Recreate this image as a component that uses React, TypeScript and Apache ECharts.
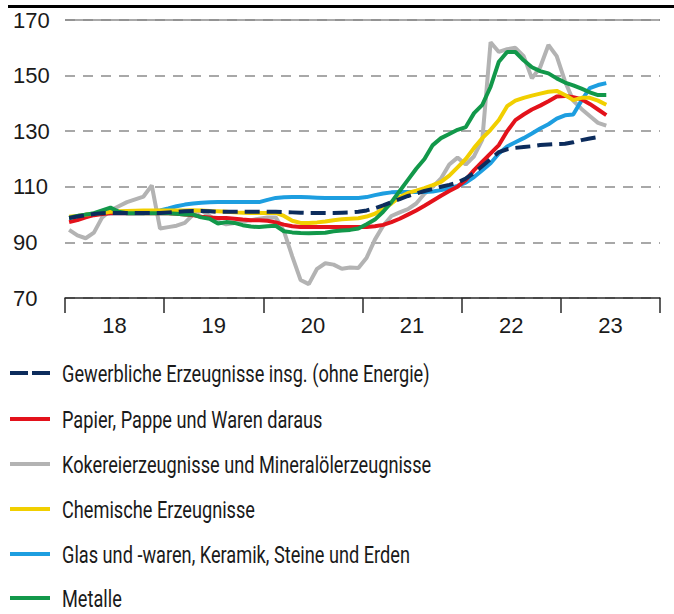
import React, { useEffect, useRef } from "react";
import * as echarts from "echarts";

const yearLabels = ["18", "19", "20", "21", "22", "23"];
const seriesNames = [
  "Gewerbliche Erzeugnisse insg. (ohne Energie)",
  "Papier, Pappe und Waren daraus",
  "Kokereierzeugnisse und Mineralölerzeugnisse",
  "Chemische Erzeugnisse",
  "Glas und -waren, Keramik, Steine und Erden",
  "Metalle",
];
// monthly values Jan 2018 .. Jun 2023
const gewerbliche = [
  98.8, 99.3, 99.8, 100.2, 100.5, 100.6, 100.6, 100.6, 100.6, 100.6, 100.6, 100.6,
  100.8, 101, 101.2, 101.3, 101.3, 101.2, 101, 101, 101, 101, 101, 101,
  101, 101, 100.9, 100.8, 100.7, 100.6, 100.6, 100.6, 100.6, 100.7, 100.8, 101,
  101.5, 102.3, 103.3, 104.5, 105.6, 106.7, 107.6, 108.5, 109.2, 110, 110.7, 111.5,
  113, 115, 117.5, 120, 122.5, 123.5, 124, 124.3, 124.6, 125, 125.2, 125.4,
  125.5, 126, 126.8, 127.4, 127.9, null,
];
const papier = [
  97.3, 98, 99, 99.8, 100.2, 100.5, 100.5, 100.5, 100.5, 100.5, 100.5, 100.5,
  100.5, 100.3, 100, 99.8, 99.2, 99, 98.8, 98.8, 98.5, 98.2, 98, 98,
  97.8, 97.2, 96.4, 95.8, 95.5, 95.5, 95.5, 95.5, 95.5, 95.5, 95.5, 95.5,
  95.5, 95.8, 96.3, 97.3, 98.5, 100, 101.5, 103.2, 105, 106.8, 108.5, 110,
  112.5, 116, 119, 122, 125, 130, 134, 136, 137.8, 139.2, 140.8, 142.5,
  142.7, 142.2, 141.5, 139.8, 137.8, 135.8,
];
const kokerei = [
  94.5, 92.5, 91.5, 93.5, 99, 101.5, 103, 104.5, 105.5, 106.5, 110.5, 95,
  95.5, 96, 97, 100, 101.5, 99.5, 97.5, 96.5, 97, 97.5, 98, 98.5,
  99, 99, 94, 85, 76.5, 75, 80.5, 82.5, 82, 80.5, 81, 80.8,
  84.5, 91, 96, 99.5, 100.8, 102, 104, 107.5, 110, 113, 118, 120.5,
  118, 121, 127, 162, 158.5, 159.5, 160, 157, 149, 153, 161, 157,
  148, 141, 138, 135.5, 133, 132,
];
const chemie = [
  99.2, 99.5, 100, 100.3, 100.6, 101, 101.2, 101.3, 101.4, 101.5, 101.5, 101.5,
  101.5, 101.5, 101.5, 101.6, 101.5, 101.3, 101.2, 101, 100.8, 100.7, 100.6, 100.6,
  100.6, 100.6, 99.5, 97.8, 97, 97, 97.2, 97.5, 98, 98.3, 98.5, 98.7,
  99.3, 100.3, 102, 104, 106.3, 107.8, 108.6, 109.5, 110.6, 111.8, 114, 117,
  120, 124, 127.5, 130.5, 134, 139, 141, 142, 142.8, 143.5, 144.2, 144.5,
  143, 141.2, 142, 142, 141, 139.5,
];
const glas = [
  99, 99.5, 100, 100.3, 100.5, 100.5, 100.5, 100.5, 100.5, 100.5, 101, 101.5,
  102.2, 103, 103.6, 104, 104.3, 104.4, 104.5, 104.5, 104.5, 104.5, 104.5, 104.5,
  105.3, 106, 106.2, 106.3, 106.3, 106.2, 106.1, 106, 106, 106, 106, 106,
  106.3, 107, 107.6, 108, 108.1, 108.1, 108.1, 108.1, 108.3, 108.8, 109.5, 110.3,
  111.5, 113.5, 116, 118.5, 122, 124.5, 126, 127.5, 129.2, 131, 132.5, 134.5,
  135.7, 136, 141, 145.5, 146.6, 147.3,
];
const metalle = [
  98.8, 99.5, 100, 100.5, 101.5, 102.5, 101, 100.5, 100.5, 100.5, 100.5, 100.5,
  100.5, 100.3, 100, 100, 99, 98.5, 96.8, 97.3, 97, 96.2, 95.7, 95.5,
  95.8, 96, 94, 93.6, 93.4, 93.3, 93.4, 93.5, 94, 94.3, 94.5, 95,
  96.5, 98.2, 101, 104.5, 108.5, 112.5, 116.5, 120, 125, 127.5, 129, 130.5,
  131.5, 136.5, 139.5, 146, 155, 158.5, 158.5, 155.5, 153, 151.6, 150.8, 149,
  147.5, 146.5, 145.3, 144, 143, 143,
];
const colors = ["#0c2c5c", "#e3121b", "#b3b3b3", "#f1cf00", "#1d9ee0", "#12984a"];

const AXIS_FONT = "'Liberation Sans', Arial, sans-serif";
const LEGEND_FONT = "Roboto, 'Liberation Sans', sans-serif";
const LEGEND_SIZE = 23;
const LEGEND_TARGET_WIDTH = 368;

function toXY(arr: (number | null)[]) {
  return arr.map((v, i) => [i + 0.5, v]);
}

function legendScale(): number {
  try {
    const ctx = document.createElement("canvas").getContext("2d");
    if (!ctx) return 0.72;
    ctx.font = `${LEGEND_SIZE}px ${LEGEND_FONT}`;
    const w = ctx.measureText(seriesNames[0]).width;
    return w > 0 ? LEGEND_TARGET_WIDTH / w : 0.72;
  } catch (e) {
    return 0.72;
  }
}

export default function App() {
  const ref = useRef<HTMLDivElement>(null);
  useEffect(() => {
    if (!ref.current) return;
    const chart = echarts.init(ref.current, undefined, { renderer: "svg" });
    const datasets = [gewerbliche, papier, kokerei, chemie, glas, metalle];
    const drawOrder = [2, 4, 1, 3, 5, 0];
    const series: any[] = drawOrder.map((k, n) => ({
      name: seriesNames[k],
      type: "line",
      xAxisIndex: 0,
      symbol: "none",
      connectNulls: false,
      z: 2 + n,
      data: toXY(datasets[k]),
      lineStyle: {
        color: colors[k],
        width: 4,
        type: k === 0 ? [15, 7] : "solid",
        cap: "butt",
      },
      itemStyle: { color: colors[k] },
      ...(n === 0
        ? {
            markLine: {
              silent: true,
              symbol: "none",
              label: { show: false },
              lineStyle: { color: "#8c8c8c", width: 1.5, type: "solid" },
              data: [{ yAxis: 170 }],
            },
          }
        : {}),
    }));

    const sx = legendScale();
    const rowY = [373, 419, 464, 509, 554, 598];
    const legendGraphics: any[] = [];
    seriesNames.forEach((name, k) => {
      const y = rowY[k];
      if (k === 0) {
        legendGraphics.push({ type: "rect", shape: { x: 10, y: y - 2, width: 18, height: 4 }, style: { fill: colors[k] } });
        legendGraphics.push({ type: "rect", shape: { x: 32, y: y - 2, width: 18, height: 4 }, style: { fill: colors[k] } });
      } else {
        legendGraphics.push({ type: "rect", shape: { x: 10, y: y - 2, width: 40, height: 4 }, style: { fill: colors[k] } });
      }
      legendGraphics.push({
        type: "text",
        x: 62,
        y: y + 1,
        scaleX: sx,
        style: {
          text: name,
          fontSize: LEGEND_SIZE,
          lineHeight: 20,
          fontFamily: LEGEND_FONT,
          fill: "#1a1a1a",
          verticalAlign: "middle",
          align: "left",
        },
      });
    });

    chart.setOption({
      animation: false,
      textStyle: { fontFamily: AXIS_FONT },
      graphic: [
        { type: "rect", shape: { x: 8, y: 5, width: 666, height: 3 }, style: { fill: "#000" } },
        ...legendGraphics,
      ],
      grid: { left: 65, right: 14, top: 20, bottom: 316, containLabel: false },
      xAxis: [
        {
          type: "value",
          min: 0,
          max: 72,
          interval: 12,
          position: "bottom",
          axisLine: { show: true, lineStyle: { color: "#2a2a2a", width: 1.5 } },
          axisTick: { show: true, length: 15, lineStyle: { color: "#2a2a2a", width: 1.5 } },
          axisLabel: { show: false },
          splitLine: { show: false },
        },
        {
          type: "category",
          position: "bottom",
          offset: 0,
          boundaryGap: true,
          data: yearLabels,
          axisLine: { show: false },
          axisTick: { show: false },
          axisLabel: { show: true, fontSize: 22, color: "#1a1a1a", margin: 16, fontFamily: AXIS_FONT },
          splitLine: { show: false },
        },
      ],
      yAxis: {
        type: "value",
        min: 70,
        max: 170,
        interval: 20,
        axisLine: { show: false },
        axisTick: { show: false },
        axisLabel: { fontSize: 22, color: "#1a1a1a", align: "left", margin: 52, fontFamily: AXIS_FONT },
        splitLine: { show: true, lineStyle: { color: "#8c8c8c", width: 1.5, type: [10, 8] } },
      },
      series,
    });
    return () => chart.dispose();
  }, []);
  return (
    <div
      ref={ref}
      style={{ position: "fixed", left: 0, top: 0, width: 674, height: 614, background: "#fff" }}
    />
  );
}
